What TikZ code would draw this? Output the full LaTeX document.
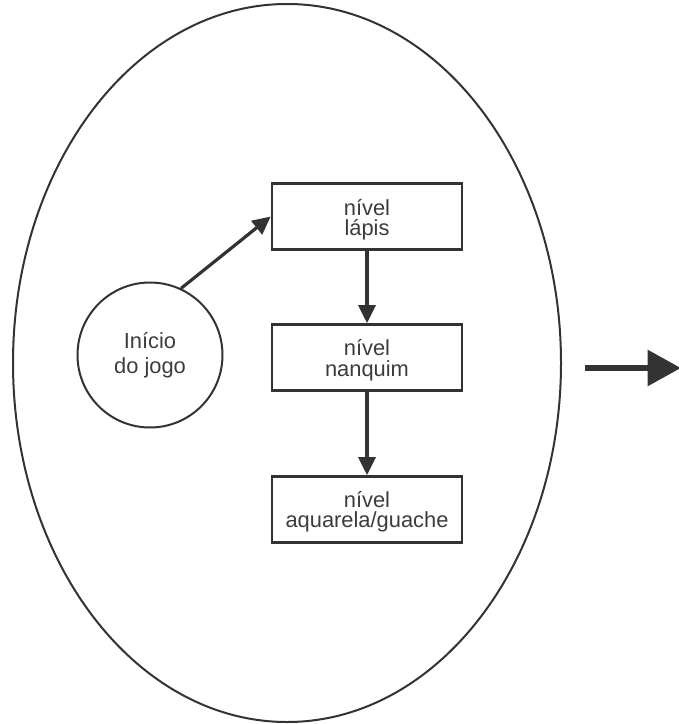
\documentclass[tikz,border=0pt]{standalone}
\usepackage{fontspec}
\setmainfont{Liberation Sans}
\usetikzlibrary{arrows.meta,shapes.geometric}
\definecolor{ink}{HTML}{333333}
\definecolor{txt}{HTML}{3C3C3C}
\begin{document}
\begin{tikzpicture}[x=0.75pt,y=-0.75pt,
  stagebox/.style={draw=ink, line width=2pt, rectangle, minimum width=142.5pt,
    minimum height=49.5pt, inner sep=0pt},
  stagetext/.style={inner sep=0pt, align=center,
    font=\fontsize{16.4}{15.2}\selectfont, text=txt},
  startnode/.style={draw=ink, line width=1.5pt, circle, minimum size=108.75pt,
    inner sep=0pt, align=center, font=\fontsize{16.4}{18.75}\selectfont, text=txt},
  outerbox/.style={draw=ink, line width=1.5pt, ellipse, minimum width=411pt,
    minimum height=538.5pt, inner sep=0pt},
  conn/.style={draw=ink, line width=2.4pt, -{Triangle[length=13.5pt,width=12.75pt]}},
  bigarrow/.style={draw=ink, line width=5pt, -{Triangle[length=25pt,width=26pt]}}
]
\useasboundingbox (0,0) rectangle (678,724);
\node[outerbox] (outer) at (287,363) {};
\node[stagebox] (lapis) at (367,216.5) {};
\node[stagebox] (nanquim) at (367,357.5) {};
\node[stagebox] (aquarela) at (367,509.5) {};
\node[stagetext] (lapisT) at ([yshift=-2.5pt]lapis.center) {nível\\lápis};
\node[stagetext] (nanquimT) at ([yshift=-2pt]nanquim.center) {nível\\nanquim};
\node[stagetext] (aquarelaT) at ([yshift=-1.5pt]aquarela.center) {nível\\aquarela/guache};
\node[startnode] (start) at (150,355) {Início\\do jogo};
\draw[conn] (start.65) -- (lapis.west);
\draw[conn] (lapis) -- (nanquim);
\draw[conn] (nanquim) -- (aquarela);
\coordinate (outA) at (585,368);
\coordinate (outB) at (681,368);
\draw[bigarrow] (outA) -- (outB);
\end{tikzpicture}
\end{document}
